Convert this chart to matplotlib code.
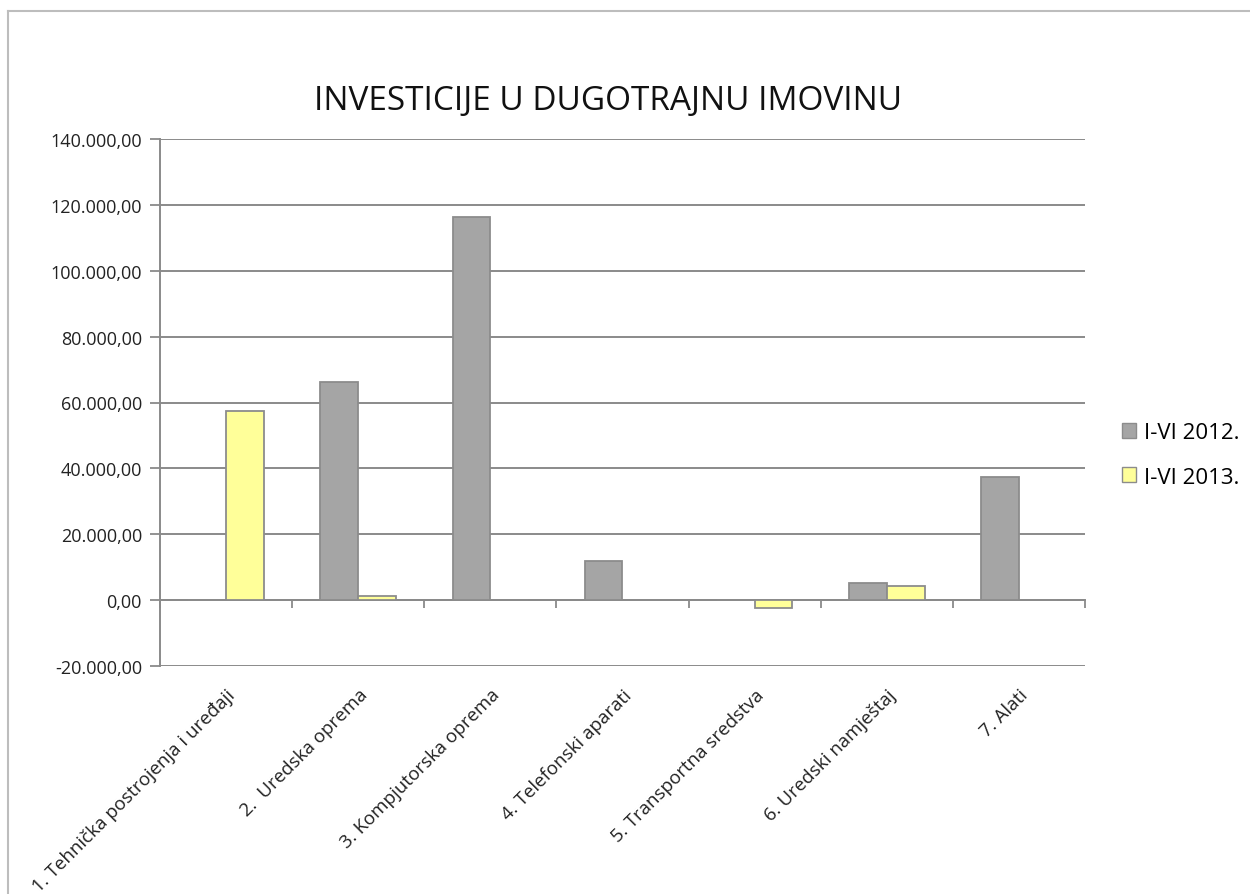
import matplotlib

matplotlib.use("Agg")
import matplotlib.pyplot as plt
import numpy as np
from matplotlib.lines import Line2D
from matplotlib.patches import Patch
from matplotlib.ticker import FuncFormatter, FixedLocator


CATEGORIES = [
    "1. Tehnička postrojenja i uređaji",
    "2.  Uredska oprema",
    "3. Kompjutorska oprema",
    "4. Telefonski aparati",
    "5. Transportna sredstva",
    "6. Uredski namještaj",
    "7. Alati",
]
SERIES_NAMES = ["I-VI 2012.", "I-VI 2013."]
VALUES_2012 = [0, 66200, 116400, 11900, 0, 5250, 37500]
VALUES_2013 = [57550, 1400, 0, 0, -2450, 4150, 0]
Y_TICKS = [-20000, 0, 20000, 40000, 60000, 80000, 100000, 120000, 140000]

TITLE = "INVESTICIJE U DUGOTRAJNU IMOVINU"

GRAY = "#A5A5A5"
YELLOW = "#FFFF99"
EDGE = "#8C8C8C"
GRID = "#8A8A8A"
FONT = ["Open Sans", "DejaVu Sans"]


def fmt_num(value, _pos=None):
    text = f"{abs(value):,.2f}".replace(",", " ").replace(".", ",").replace(" ", ".")
    return ("-" if value < 0 else "") + text


plt.rcParams["font.family"] = FONT

fig = plt.figure(figsize=(12.5, 8.95), dpi=100)
ax = fig.add_axes([160 / 1250, 1 - 667 / 895, 925 / 1250, 527 / 895])

x = np.arange(len(CATEGORIES))
width = 1 / 3.5
ax.bar(x - width / 2, VALUES_2012, width, color=GRAY, edgecolor=EDGE, linewidth=1.3, zorder=3)
ax.bar(x + width / 2, VALUES_2013, width, color=YELLOW, edgecolor=EDGE, linewidth=1.3, zorder=3)

ax.set_xlim(-0.5, len(CATEGORIES) - 0.5)
ax.set_ylim(Y_TICKS[0], Y_TICKS[-1])
ax.set_yticks(Y_TICKS)
ax.yaxis.set_major_formatter(FuncFormatter(fmt_num))
ax.grid(axis="y", color=GRID, linewidth=1.4, zorder=0)
ax.tick_params(axis="y", direction="out", length=7, width=1.3, color=GRID,
               labelsize=13, labelcolor="#222222", pad=6)

ax.set_xticks(x)
ax.set_xticklabels(CATEGORIES, rotation=45, ha="right", va="top",
                   rotation_mode="anchor", fontsize=13.5, color="#222222")
ax.tick_params(axis="x", length=0, pad=14)

for side in ("top", "right", "bottom"):
    ax.spines[side].set_visible(False)
ax.spines["left"].set_color(GRID)
ax.spines["left"].set_linewidth(1.4)

# category axis crossing at zero, with tick marks between the groups
zero_frac = (0 - Y_TICKS[0]) / (Y_TICKS[-1] - Y_TICKS[0])
sec = ax.secondary_xaxis(zero_frac)
sec.xaxis.set_major_locator(FixedLocator(np.arange(len(CATEGORIES) + 1) - 0.5))
sec.tick_params(axis="x", direction="out", length=6, width=1.3, color=GRID, labelbottom=False)
sec.spines["bottom"].set_color(GRID)
sec.spines["bottom"].set_linewidth(1.4)

fig.text(608 / 1250, 1 - 101 / 895, TITLE, ha="center", va="center", fontsize=24, color="#111111")

handles = [Patch(facecolor=GRAY, edgecolor=EDGE), Patch(facecolor=YELLOW, edgecolor=EDGE)]
fig.legend(handles, SERIES_NAMES, loc="center left", bbox_to_anchor=(1102 / 1250, 1 - 456 / 895),
           frameon=False, fontsize=16, handlelength=0.65, handleheight=0.65,
           handletextpad=0.35, labelspacing=1.05)

# outer chart frame (left and top edges visible in the crop)
fig.add_artist(Line2D([8 / 1250, 8 / 1250], [0, 1 - 12 / 895], color="#BDBDBD", linewidth=1.5))
fig.add_artist(Line2D([8 / 1250, 1], [1 - 12 / 895, 1 - 12 / 895], color="#BDBDBD", linewidth=1.5))

fig.savefig("out.png", dpi=100, facecolor="white")
plt.close(fig)
